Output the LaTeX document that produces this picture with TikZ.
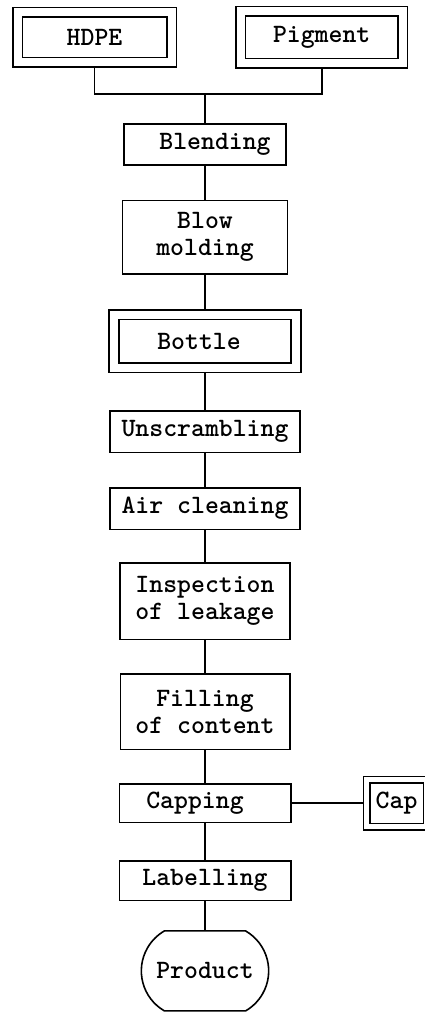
\documentclass[tikz,border=0pt]{standalone}
\usepackage{fontspec}
\usetikzlibrary{positioning, shapes.misc}
\tikzset{
	stepbox/.style={rectangle, draw=black, line width=1.6pt, align=center, inner sep=2pt, font=\ttfamily\bfseries\fontsize{26.5}{27}\selectfont},
	stockbox/.style={stepbox, double, double distance=8pt, outer sep=5.6pt},
	endbox/.style={rounded rectangle, rounded rectangle arc length=120, draw=black, line width=1.6pt, minimum width=134pt, minimum height=80pt, font=\ttfamily\bfseries\fontsize{26.5}{27}\selectfont},
	link/.style={line width=1.6pt, draw=black},
}
\begin{document}
\begin{tikzpicture}[x=1pt, y=1pt, node distance=34pt]
	\useasboundingbox (0,0) rectangle (424,-1014);
	% raw materials
	\node[stockbox, minimum width=154pt, minimum height=50pt] (hdpe) at (94.5,-37.5) {HDPE};
	\node[stockbox, minimum width=162pt, minimum height=52pt, right=58pt of hdpe] (pigment) {Pigment};
	% main line
	\node[stepbox, minimum width=162pt, minimum height=41pt] (blend) at (205,-144.5) {\hspace*{20pt}Blending};
	\node[stepbox, minimum width=165pt, minimum height=73.5pt, below=of blend] (blow) {Blow\\molding};
	\node[stockbox, minimum width=182pt, minimum height=53pt, below=of blow] (bottle) {Bottle\hspace*{12pt}};
	\node[stepbox, minimum width=190.4pt, minimum height=41.4pt, below=37pt of bottle] (unscr) {Unscrambling};
	\node[stepbox, minimum width=190.4pt, minimum height=41.4pt, below=of unscr] (air) {Air cleaning};
	\node[stepbox, minimum width=170.4pt, minimum height=76.4pt, below=32pt of air] (insp) {Inspection\\of leakage};
	\node[stepbox, minimum width=169.4pt, minimum height=75.4pt, below=33pt of insp] (fill) {Filling\\of content};
	\node[stepbox, minimum width=171.4pt, minimum height=38.4pt, below=33pt of fill] (capping) {Capping\hspace*{20pt}};
	\node[stockbox, double distance=5pt, outer sep=4.1pt, minimum width=60pt, minimum height=47pt, right=71pt of capping] (cap) {Cap};
	\node[stepbox, minimum width=171.4pt, minimum height=39.4pt, below=37pt of capping] (label) {Labelling};
	\node[endbox, below=29pt of label] (product) {Product};
	% connectors
	\coordinate (join) at ([yshift=-26pt]blend.north |- hdpe.south);
	\draw[link] (hdpe.south) |- (join) -| (pigment.south);
	\draw[link] (join) -- (blend);
	\draw[link] (blend) -- (blow);
	\draw[link] (blow) -- (bottle);
	\draw[link] (bottle) -- (unscr);
	\draw[link] (unscr) -- (air);
	\draw[link] (air) -- (insp);
	\draw[link] (insp) -- (fill);
	\draw[link] (fill) -- (capping);
	\draw[link] (capping) -- (cap);
	\draw[link] (capping) -- (label);
	\draw[link] (label) -- (product);
\end{tikzpicture}
\end{document}
